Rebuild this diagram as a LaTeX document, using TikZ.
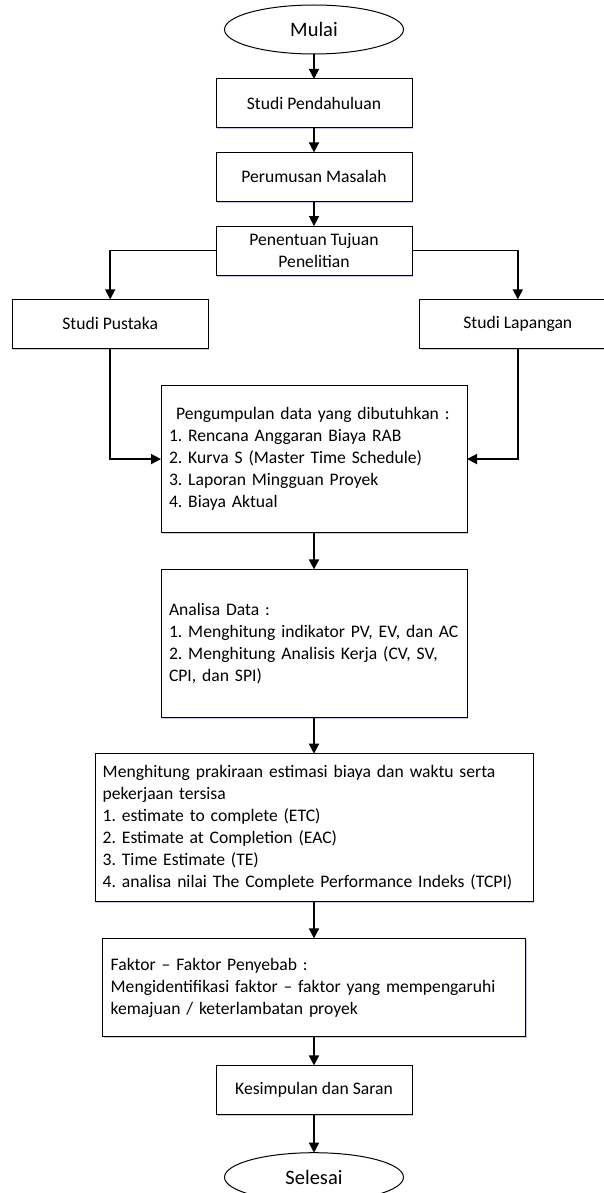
\documentclass[tikz,border=0pt]{standalone}
\usepackage{fontspec}
\setmainfont{Carlito}
\usetikzlibrary{positioning, arrows.meta, shapes.geometric, shadows}
\frenchspacing

\begin{document}
\begin{tikzpicture}[
  >={Triangle[length=10pt, width=10pt]},
  font=\fontsize{17.6}{22}\selectfont,
  line width=1pt,
  outer sep=0pt,
  shade/.style={drop shadow={shadow xshift=1pt, shadow yshift=-1.5pt, opacity=0.3, fill=blue!40!gray}},
  box/.style={draw, fill=white, shade, minimum width=196pt, minimum height=49pt, align=center},
  listbox/.style={draw, fill=white, shade, align=left, inner xsep=8pt, inner ysep=0pt},
  term/.style={draw, ellipse, fill=white, minimum width=179pt, minimum height=49pt, inner sep=0pt, font=\fontsize{20.5}{24}\selectfont},
  flow/.style={->, line width=1.6pt}
]
  \useasboundingbox (0,0) rectangle (604pt,-1193pt);

  % start and first steps
  \node[term] (mulai) at (314pt,-29.5pt) {Mulai};
  \node[box, below=25pt of mulai] (pendahuluan) {Studi Pendahuluan};
  \node[box, below=24.4pt of pendahuluan] (perumusan) {Perumusan Masalah};
  \node[box, below=24.7pt of perumusan] (tujuan) {Penentuan Tujuan\\Penelitian};

  % two studies side by side
  \node[box, below=24.3pt of tujuan, xshift=-203.8pt] (pustaka) {Studi Pustaka};
  \node[box, below=24.3pt of tujuan, xshift=203.8pt] (lapangan) {Studi Lapangan};

  % data collection
  \node[listbox, minimum width=306pt, minimum height=147.3pt, text width=290pt, below=110.3pt of tujuan] (kumpul) {%
    \hspace*{7pt}Pengumpulan data yang dibutuhkan :\\
    1. Rencana Anggaran Biaya RAB\\
    2. Kurva S (Master Time Schedule)\\
    3. Laporan Mingguan Proyek\\
    4. Biaya Aktual};

  % analysis
  \node[listbox, minimum width=306pt, minimum height=147.7pt, text width=290pt, below=36.7pt of kumpul] (analisa) {%
    Analisa Data :\\
    1. Menghitung indikator PV, EV, dan AC\\
    2. Menghitung Analisis Kerja (CV, SV,\\
    CPI, dan SPI)};

  % forecasting
  \node[listbox, minimum width=438pt, minimum height=148pt, text width=422.6pt, inner xsep=7.7pt, below=36.6pt of analisa] (prakiraan) {%
    Menghitung prakiraan estimasi biaya dan waktu serta\\
    pekerjaan tersisa\\
    1. estimate to complete (ETC)\\
    2. Estimate at Completion (EAC)\\
    3. Time Estimate (TE)\\
    4. analisa nilai The Complete Performance Indeks (TCPI)};

  % causes
  \node[listbox, minimum width=423pt, minimum height=98pt, text width=406.6pt, inner xsep=8.2pt, below=36.7pt of prakiraan] (faktor) {%
    Faktor -- Faktor Penyebab :\\
    Mengidentifikasi faktor -- faktor yang mempengaruhi\\
    kemajuan / keterlambatan proyek};

  % end
  \node[box, below=29pt of faktor] (simpulan) {Kesimpulan dan Saran};
  \node[term, below=38.3pt of simpulan] (selesai) {Selesai};

  % connectors
  \draw[flow] (mulai) -- (pendahuluan);
  \draw[flow] (pendahuluan) -- (perumusan);
  \draw[flow] (perumusan) -- (tujuan);
  \draw[flow] (tujuan.west) -| (pustaka.north);
  \draw[flow] (tujuan.east) -| (lapangan.north);
  \draw[flow] (pustaka.south) |- (kumpul.west);
  \draw[flow] (lapangan.south) |- (kumpul.east);
  \draw[flow] (kumpul) -- (analisa);
  \draw[flow] (analisa) -- (prakiraan);
  \draw[flow] (prakiraan) -- (faktor);
  \draw[flow] (faktor) -- (simpulan);
  \draw[flow] (simpulan) -- (selesai);
\end{tikzpicture}
\end{document}
